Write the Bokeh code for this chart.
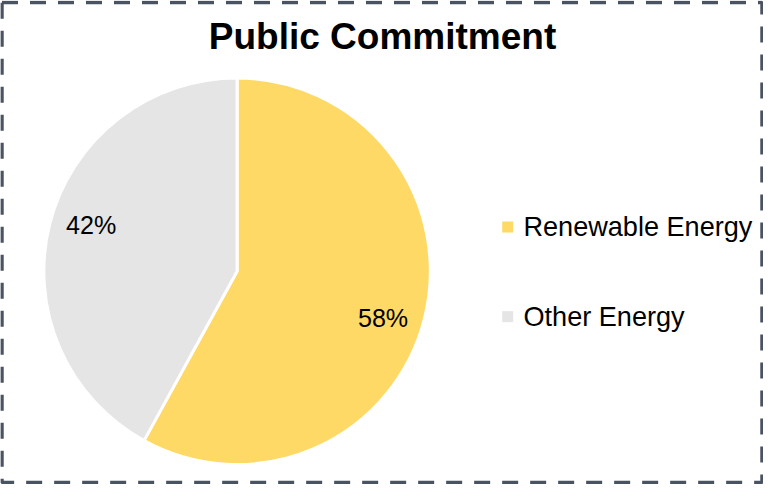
import math
from bokeh.plotting import figure
from bokeh.models import Range1d, ColumnDataSource
from bokeh.core.properties import value
from bokeh.embed import file_html
from bokeh.resources import INLINE

# ---- data ----
title = "Public Commitment"
categories = ["Renewable Energy", "Other Energy"]
shares = [58, 42]
colors = ["#FFD966", "#E5E5E5"]

# ---- layout (reference pixel space, y measured from bottom = 500 - y_px) ----
W, H = 763, 484
p = figure(width=W, height=H, output_backend="svg", toolbar_location=None,
           x_range=Range1d(1.5, 775.5), y_range=Range1d(1, 497),
           x_axis_location=None, y_axis_location=None, min_border=0)
p.grid.visible = False
p.outline_line_color = None
p.background_fill_color = "white"
p.border_fill_color = "white"

FONT = value("Liberation Sans")
S = W / 774.0  # scale from reference pixels to page pixels

# dashed frame
p.quad(left=[3], right=[774], bottom=[500 - 497], top=[500 - 5],
       fill_color=None, line_color="#4A5361", line_width=3.5, line_dash="16 12")

# title
p.text(x=[389], y=[500 - 39.5], text=[title], text_font=FONT,
       text_font_size=f"{37.5 * S:.1f}px", text_font_style="bold",
       text_align="center", text_baseline="middle", text_color="black")

# pie
cx, cy, r = 241.5, 500 - 280.5, 196
total = sum(shares)
starts, ends, lx, ly, labels = [], [], [], [], []
a = 90.0
for v in shares:
    sweep = 360.0 * v / total
    starts.append(math.radians(a))
    ends.append(math.radians(a - sweep))
    mid = math.radians(a - sweep / 2)
    d = 0.78 * r
    lx.append(cx + d * math.cos(mid))
    ly.append(cy + d * math.sin(mid) * 1.25)
    labels.append(f"{v}%")
    a -= sweep

src = ColumnDataSource(dict(start=starts, end=ends, color=colors, lx=lx, ly=ly,
                            label=labels, cat=categories))
p.wedge(x=cx, y=cy, radius=r, start_angle="start", end_angle="end",
        direction="clock", fill_color="color", line_color="white",
        line_width=3, source=src)
p.text(x="lx", y="ly", text="label", source=src, text_font=FONT,
       text_font_size=f"{25.5 * S:.1f}px", text_align="center",
       text_baseline="middle", text_color="black")

# legend
leg_x, leg_y0, leg_dy = 516, 500 - 235, 92
leg = ColumnDataSource(dict(
    x=[leg_x] * len(categories),
    y=[leg_y0 - i * leg_dy for i in range(len(categories))],
    tx=[leg_x + 16] * len(categories),
    cat=categories, color=colors))
p.scatter(x="x", y="y", marker="square", size=11, fill_color="color",
          line_color=None, source=leg)
p.text(x="tx", y="y", text="cat", source=leg, text_font=FONT,
       text_font_size=f"{27.5 * S:.1f}px", text_align="left",
       text_baseline="middle", text_color="black")

open("out.html", "w").write(file_html(p, INLINE))
